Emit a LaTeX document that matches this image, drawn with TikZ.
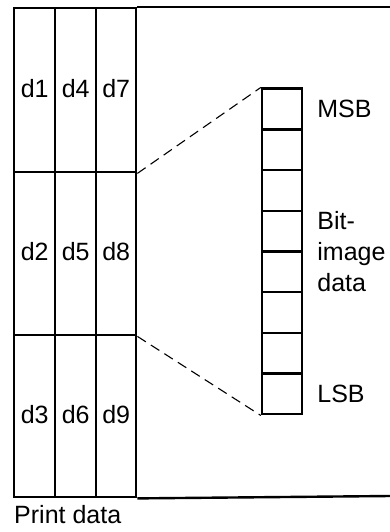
\documentclass[tikz,border=0pt]{standalone}
\usepackage{fontspec}
\setmainfont{Liberation Sans}
\begin{document}
\begin{tikzpicture}[x=1pt,y=-1pt,
  txt/.style={font=\fontsize{25}{31}\selectfont},
  cell/.style={draw, txt, line width=2.4pt, minimum width=41pt, minimum height=163pt, inner sep=0pt, text depth=4pt, anchor=north west},
  bit/.style={draw, line width=2.4pt, minimum width=40pt, minimum height=40.7pt, inner sep=0pt},
  lab/.style={txt, inner sep=0pt, anchor=west, align=left},
  frame/.style={line width=2.4pt},
  link/.style={line width=1.1pt, dash pattern=on 10pt off 6pt}]
\useasboundingbox (0,0) rectangle (390,532);
% print data cells
\node[cell, minimum height=164pt] (d1) at (13,7) {d1};
\node[cell, minimum height=164pt] (d4) at (54,7) {d4};
\node[cell, minimum height=164pt, minimum width=40pt] (d7) at (95,7) {d7};
\node[cell] (d2) at (13,171) {d2};
\node[cell] (d5) at (54,171) {d5};
\node[cell, minimum width=40pt] (d8) at (95,171) {d8};
\node[cell, minimum height=162pt] (d3) at (13,334) {d3};
\node[cell, minimum height=162pt] (d6) at (54,334) {d6};
\node[cell, minimum width=40pt, minimum height=162pt] (d9) at (95,334) {d9};
% outer frame lines
\coordinate (tr) at (390,7);
\coordinate (br) at (390,496);
\draw[frame] (d7.north east) -- (tr);
\draw[frame] (d9.south east) -- (br);
% bit boxes
\foreach \i in {1,...,8} {
  \node[bit] (b\i) at (282, {109 + 40.7*(\i-1)}) {};
}
% labels
\node[lab] (msb) at ([xshift=14pt]b1.east) {MSB};
\node[lab] (bid) at ([xshift=14pt, yshift=1pt]b4.south east) {Bit-\\image\\data};
\node[lab] (lsb) at ([xshift=14pt]b8.east) {LSB};
\node[lab, anchor=north west] (pd) at (14,505.5) {Print data};
% dashed connectors
\draw[link] (d7.south east) -- (b1.north west);
\draw[link] (d8.south east) -- (b8.south west);
\end{tikzpicture}
\end{document}
